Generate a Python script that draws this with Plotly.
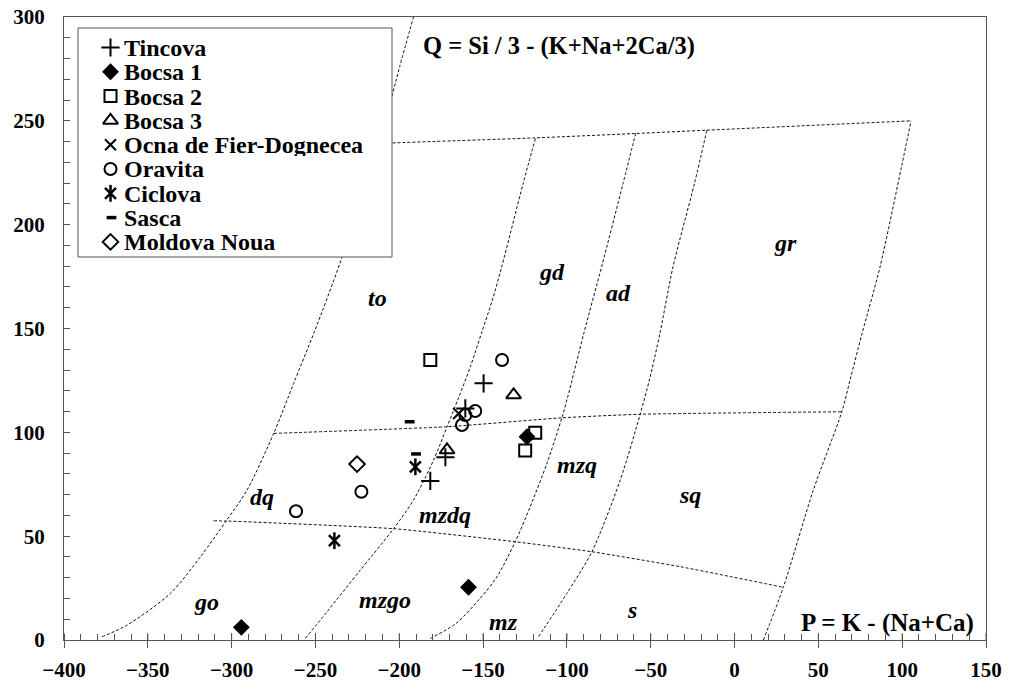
import plotly.graph_objects as go

# ---------------- data ----------------
series_names = ["Tincova", "Bocsa 1", "Bocsa 2", "Bocsa 3", "Ocna de Fier-Dognecea",
                "Oravita", "Ciclova", "Sasca", "Moldova Noua"]

tincova_x = [-149.7, -160.6, -172.5, -181.5]
tincova_y = [123.6, 111.5, 88.0, 76.6]
bocsa1_x = [-123.8, -158.7, -294.2]
bocsa1_y = [97.9, 25.4, 6.1]
bocsa2_x = [-181.5, -118.9, -124.9]
bocsa2_y = [134.8, 99.8, 91.2]
bocsa3_x = [-131.8, -171.5]
bocsa3_y = [118.0, 91.5]
ocna_x = [-164.6]
ocna_y = [109.1]
oravita_x = [-138.7, -160.6, -154.7, -162.6, -222.6, -261.6]
oravita_y = [134.8, 108.3, 110.3, 103.5, 71.4, 62.0]
ciclova_x = [-190.4, -238.7]
ciclova_y = [83.4, 47.8]
sasca_x = [-193.8, -190.0]
sasca_y = [105.1, 89.6]
moldova_x = [-225.2]
moldova_y = [84.7]

# Debon & Le Fort field boundaries (P, Q)
curve1_x = [-377.2, -362.3, -336.5, -318.6, -303.3, -290.8, -274.9, -263.0, -251.0, -234.1, -204.0, -199.8, -191.5]
curve1_y = [1.6, 7.2, 22.5, 40.1, 57.3, 72.2, 99.5, 123.6, 147.7, 184.5, 263.2, 276.0, 300.0]
curve2_x = [-256.0, -243.1, -223.2, -203.4, -191.5, -179.5, -171.5, -164.4, -157.6, -151.0, -144.5, -138.9, -126.1, -118.7]
curve2_y = [0.8, 13.6, 33.7, 53.6, 67.4, 86.7, 102.7, 117.1, 131.6, 147.7, 163.7, 179.7, 219.9, 241.8]
curve3_x = [-181.5, -166.6, -151.7, -141.7, -130.8, -121.9, -111.9, -103.0, -99.5, -89.9, -79.3, -66.5, -59.0]
curve3_y = [0.8, 7.7, 20.1, 30.5, 47.3, 64.2, 85.1, 107.0, 117.1, 147.7, 179.7, 219.9, 243.9]
curve4_x = [-116.9, -100.0, -85.1, -68.2, -56.3, -50.8, -44.5, -36.7, -23.9, -16.5]
curve4_y = [1.6, 22.5, 42.5, 77.0, 108.7, 125.2, 147.7, 179.7, 219.9, 245.5]
curve5_x = [17.2, 29.1, 47.0, 64.0, 68.9, 76.1, 86.8, 99.6, 105.3]
curve5_y = [0.0, 25.4, 72.2, 109.9, 125.2, 147.7, 179.7, 227.9, 250.0]
upper_x = [-274.9, -171.5, -103.0, -56.3, 64.0]
upper_y = [99.5, 102.7, 107.0, 108.7, 109.9]
lower_x = [-310.7, -303.3, -203.4, -130.8, -85.1, -32.4, 29.1]
lower_y = [57.4, 57.3, 53.6, 47.3, 42.5, 35.3, 25.4]
top_x = [-213.2, -118.7, -59.0, -16.5, 105.3]
top_y = [239.1, 241.8, 243.9, 245.5, 250.0]

region_names = ["to", "gd", "ad", "gr", "dq", "mzdq", "mzq", "sq", "go", "mzgo", "mz", "s"]
region_x = [-212.9, -108.9, -69.1, 30.4, -281.8, -172.6, -94.0, -26.5, -315.0, -208.3, -137.8, -61.2]
region_y = [164.5, 177.3, 167.2, 191.0, 69.0, 60.2, 84.3, 69.8, 18.4, 19.3, 8.8, 14.4]

x_ticks = [-400, -350, -300, -250, -200, -150, -100, -50, 0, 50, 100, 150]
y_ticks = [0, 50, 100, 150, 200, 250, 300]

# ---------------- styling ----------------
FONT = "Liberation Serif"
INK = "black"
AX = "#555555"

series_xy = [(tincova_x, tincova_y), (bocsa1_x, bocsa1_y), (bocsa2_x, bocsa2_y),
             (bocsa3_x, bocsa3_y), (ocna_x, ocna_y), (oravita_x, oravita_y),
             (ciclova_x, ciclova_y), (sasca_x, sasca_y), (moldova_x, moldova_y)]

# each series may be drawn with one or more overlaid symbols
styles = [
    [dict(symbol="cross-thin-open", size=13, color=INK, line=dict(color=INK, width=2))],
    [dict(symbol="diamond", size=13, color=INK, line=dict(color=INK, width=0))],
    [dict(symbol="square-open", size=12, color=INK, line=dict(color=INK, width=2))],
    [dict(symbol="triangle-up-open", size=13, color=INK, line=dict(color=INK, width=2))],
    [dict(symbol="x-thin-open", size=11, color=INK, line=dict(color=INK, width=2))],
    [dict(symbol="circle-open", size=12, color=INK, line=dict(color=INK, width=2))],
    [dict(symbol="x-thin-open", size=11, color=INK, line=dict(color=INK, width=2.5)),
     dict(symbol="line-ns-open", size=12, color=INK, line=dict(color=INK, width=2.5))],
    [dict(symbol="line-ew-open", size=7, color=INK, line=dict(color=INK, width=3.5))],
    [dict(symbol="diamond-open", size=12, color=INK, line=dict(color=INK, width=2))],
]

fig = go.Figure()

dash_line = dict(color="#111111", width=1, dash="3px,2px")
for cx, cy in [(curve1_x, curve1_y), (curve2_x, curve2_y), (curve3_x, curve3_y),
               (curve4_x, curve4_y), (curve5_x, curve5_y)]:
    fig.add_trace(go.Scatter(x=cx, y=cy, mode="lines", line=dict(shape="spline", smoothing=0.8, **dash_line),
                             hoverinfo="skip", showlegend=False))
for cx, cy in [(upper_x, upper_y), (lower_x, lower_y), (top_x, top_y)]:
    fig.add_trace(go.Scatter(x=cx, y=cy, mode="lines", line=dict(shape="spline", smoothing=0.5, **dash_line),
                             hoverinfo="skip", showlegend=False))

for name, (sx, sy), st in zip(series_names, series_xy, styles):
    for m in st:
        fig.add_trace(go.Scatter(x=sx, y=sy, mode="markers", name=name, marker=m,
                                 showlegend=False, cliponaxis=False))

# ---------------- hand-built legend box (paper-like overlay axes) ----------------
plot_l, plot_r, plot_t, plot_b = 64, 986, 17, 640
pw, ph = plot_r - plot_l, plot_b - plot_t


def px2paper_x(px):
    return (px - plot_l) / pw


def px2paper_y(py):
    return (plot_b - py) / ph


bx0, bx1 = px2paper_x(78), px2paper_x(392)
by0, by1 = px2paper_y(257), px2paper_y(28)
fig.add_trace(go.Scatter(x=[bx0, bx1, bx1, bx0, bx0], y=[by0, by0, by1, by1, by0],
                         xaxis="x2", yaxis="y2", mode="lines", fill="toself",
                         fillcolor="white", line=dict(color=AX, width=1),
                         hoverinfo="skip", showlegend=False))

annotations = []
ROW = 24.3
for i, (name, st) in enumerate(zip(series_names, styles)):
    ypx = 47.5 + i * ROW
    xs = 111.5 if name == "Sasca" else 110.5
    for m in st:
        fig.add_trace(go.Scatter(x=[px2paper_x(xs)], y=[px2paper_y(ypx)], xaxis="x2", yaxis="y2",
                                 mode="markers", marker=m, hoverinfo="skip", showlegend=False))
    annotations.append(dict(x=px2paper_x(123), y=px2paper_y(ypx), xref="paper", yref="paper",
                            text=name, showarrow=False, xanchor="left", yanchor="middle",
                            height=23, valign="middle", borderpad=0,
                            font=dict(family=FONT, size=24, color=INK, weight="bold")))

# formula labels
annotations.append(dict(x=px2paper_x(421), y=px2paper_y(46), xref="paper", yref="paper",
                        text="Q = Si / 3 - (K+Na+2Ca/3)", showarrow=False, xanchor="left",
                        yanchor="middle", font=dict(family=FONT, size=24.5, color=INK, weight="bold")))
annotations.append(dict(x=px2paper_x(976), y=px2paper_y(623), xref="paper", yref="paper",
                        text="P = K - (Na+Ca)", showarrow=False, xanchor="right",
                        yanchor="middle", font=dict(family=FONT, size=25, color=INK, weight="bold")))

# field names
for t, rx, ry in zip(region_names, region_x, region_y):
    annotations.append(dict(x=rx, y=ry, xref="x", yref="y", text=t, showarrow=False,
                            xanchor="center", yanchor="middle",
                            font=dict(family=FONT, size=24, color=INK, weight="bold", style="italic")))

# inner half of the major x ticks (they cross the axis line)
shapes = [dict(type="line", xref="x", yref="paper", x0=v, x1=v, y0=0, y1=7 / ph,
               line=dict(color=AX, width=1)) for v in x_ticks]

tickfont = dict(family=FONT, size=21, color=INK, weight="bold")
fig.update_layout(
    width=1015, height=684,
    margin=dict(l=plot_l, r=1015 - plot_r, t=plot_t, b=684 - plot_b, autoexpand=False),
    paper_bgcolor="white", plot_bgcolor="white",
    showlegend=False,
    xaxis=dict(range=[-400, 150], tickvals=x_ticks, ticks="outside", ticklen=7, tickcolor=AX,
               tickwidth=1, minor=dict(dtick=10, ticks="inside", ticklen=6, tickcolor=AX),
               showline=True, linecolor=AX, linewidth=1, mirror=True, showgrid=False,
               zeroline=False, tickfont=tickfont, ticklabelstandoff=4, automargin=False),
    yaxis=dict(range=[0, 300], tickvals=y_ticks, ticks="inside", ticklen=6, tickcolor=AX,
               tickwidth=1, minor=dict(dtick=10, ticks="inside", ticklen=6, tickcolor=AX),
               showline=True, linecolor=AX, linewidth=1, mirror=True, showgrid=False,
               zeroline=False, tickfont=tickfont, ticklabelstandoff=14, automargin=False),
    xaxis2=dict(overlaying="x", range=[0, 1], visible=False, fixedrange=True),
    yaxis2=dict(overlaying="y", range=[0, 1], visible=False, fixedrange=True),
    annotations=annotations,
    shapes=shapes,
)

fig.write_html("out.html")
